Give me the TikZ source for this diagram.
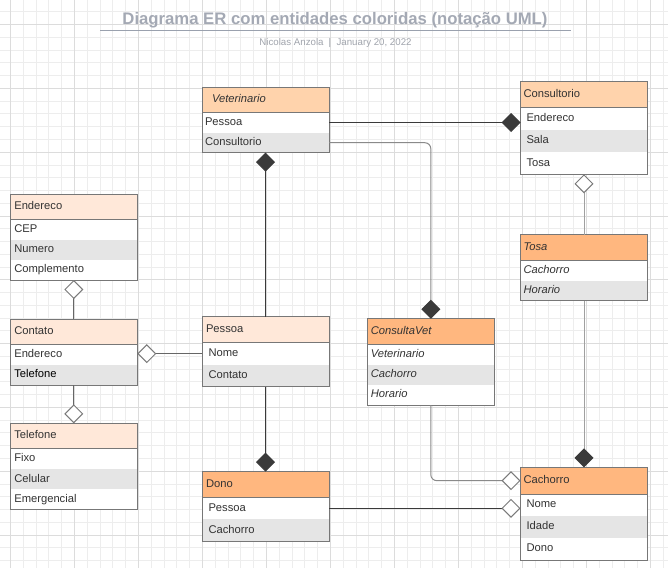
\documentclass[tikz,border=0pt]{standalone}
\usepackage{fontspec}
\setmainfont{Liberation Sans}
\usetikzlibrary{arrows.meta}
\definecolor{gmin}{HTML}{EDEDED}
\definecolor{gmaj}{HTML}{DCDCDC}
\definecolor{hA}{HTML}{FFD3AC}
\definecolor{hB}{HTML}{FFE8D9}
\definecolor{hC}{HTML}{FFB77F}
\definecolor{rowg}{HTML}{E5E5E5}
\definecolor{bordc}{HTML}{777777}
\definecolor{txt}{HTML}{333333}
\definecolor{dk}{HTML}{3A3A3A}
\definecolor{md}{HTML}{666666}
\definecolor{lt}{HTML}{8A8A8A}
\definecolor{lt2}{HTML}{A0A0A0}
\definecolor{odc}{HTML}{7A7A7A}
\definecolor{titlec}{HTML}{A4A9B4}
\definecolor{titleline}{HTML}{9AA1AE}
\definecolor{subc}{HTML}{A0A4AC}
\newcommand\cellfont{\fontsize{11.2}{13}\selectfont}
\newcommand\ecell[8]{%
  \pgfmathsetmacro\ecw{127-2*#6}%
  \node[cellbase, fill=#5, minimum height=#4pt, inner xsep=#6pt, text width=\ecw pt, font=\cellfont#7] (#1) at (#2,#3) {#8};}
\begin{document}
\begin{tikzpicture}[x=1pt,y=-1pt,
  cellbase/.style={anchor=north west, draw=none, inner ysep=0pt, outer sep=0pt, align=left,
    minimum width=127pt, text height=8pt, text depth=2.3pt, text=txt},
  gridmin/.style={draw=gmin, line width=0.9pt},
  gridmaj/.style={draw=gmaj, line width=1pt},
  bord/.style={draw=bordc, line width=1pt},
  conn/.style={line width=1pt},
  fdEnd/.style={-{Diamond[length=19pt,width=19pt,color=dk,fill=dk]}},
  fdStart/.style={{Diamond[length=19pt,width=19pt,color=dk,fill=dk]}-},
  odEnd/.style={-{Diamond[length=19pt,width=19pt,color=odc,fill=white]}},
  odStart/.style={{Diamond[length=19pt,width=19pt,color=odc,fill=white]}-}]
\useasboundingbox (0,0) rectangle (668,568);
\fill[white] (0,0) rectangle (668,568);
% grid
\foreach \k in {-1,...,51} {\pgfmathsetmacro\xx{10.5+12.8*\k}\draw[gridmin] (\xx,0) -- (\xx,568);}
\foreach \k in {-1,...,42} {\pgfmathsetmacro\yy{24.6+12.76*\k}\draw[gridmin] (0,\yy) -- (668,\yy);}
\foreach \k in {0,...,10} {\pgfmathsetmacro\xx{10.5+64*\k}\draw[gridmaj] (\xx,0) -- (\xx,568);}
\foreach \k in {0,...,8} {\pgfmathsetmacro\yy{24.6+63.8*\k}\draw[gridmaj] (0,\yy) -- (668,\yy);}
% title
\node[anchor=base, inner sep=0pt, text=titlec, font=\bfseries\fontsize{16.7}{19}\selectfont] (title) at (335,24.3) {Diagrama ER com entidades coloridas (notação UML)};
\draw[titleline, line width=1.2pt] (100,30.7) -- (571,30.7);
\node[anchor=base, inner sep=0pt, text=subc, font=\fontsize{9.7}{11}\selectfont] (sub) at (335.5,45) {Nicolas Anzola\hspace{5pt}|\hspace{5.5pt}January 20, 2022};
% Veterinario
\ecell{vet}{202}{87}{25.3}{hA}{10}{\itshape}{Veterinario}
\ecell{vetP}{202}{112.3}{20.4}{white}{3}{}{Pessoa}
\ecell{vetC}{202}{132.7}{20}{rowg}{3}{}{Consultorio}
\draw[bord] (vet.north west) rectangle (vetC.south east);
\draw[bord] (vet.south west) -- (vet.south east);
% Consultorio
\ecell{cons}{520.5}{81.7}{25.6}{hA}{3}{}{Consultorio}
\ecell{consE}{520.5}{107.3}{22.7}{white}{6}{}{Endereco}
\ecell{consS}{520.5}{130}{22}{rowg}{6}{}{Sala}
\ecell{consT}{520.5}{152}{22.3}{white}{6}{}{Tosa}
\draw[bord] (cons.north west) rectangle (consT.south east);
\draw[bord] (cons.south west) -- (cons.south east);
% Endereco
\ecell{endr}{10.3}{194}{25}{hB}{4}{}{Endereco}
\ecell{endCEP}{10.3}{219}{20.5}{white}{4}{}{CEP}
\ecell{endN}{10.3}{239.5}{20.5}{rowg}{4}{}{Numero}
\ecell{endC}{10.3}{260}{20}{white}{4}{}{Complemento}
\draw[bord] (endr.north west) rectangle (endC.south east);
\draw[bord] (endr.south west) -- (endr.south east);
% Contato
\ecell{cont}{10.3}{319}{25.3}{hB}{4}{}{Contato}
\ecell{contE}{10.3}{344.3}{20.2}{white}{4}{}{Endereco}
\ecell{contT}{10.3}{364.5}{20.5}{rowg}{4}{}{\textcolor{black}{Telefone}}
\draw[bord] (cont.north west) rectangle (contT.south east);
\draw[bord] (cont.south west) -- (cont.south east);
% Telefone
\ecell{tel}{10.3}{423.3}{25.4}{hB}{4}{}{Telefone}
\ecell{telF}{10.3}{448.7}{20.3}{white}{4}{}{Fixo}
\ecell{telC}{10.3}{469}{20.3}{rowg}{4}{}{Celular}
\ecell{telE}{10.3}{489.3}{20.2}{white}{4}{}{Emergencial}
\draw[bord] (tel.north west) rectangle (telE.south east);
\draw[bord] (tel.south west) -- (tel.south east);
% Pessoa
\ecell{pes}{202}{316.7}{25.6}{hB}{4}{}{Pessoa}
\ecell{pesN}{202}{342.3}{22.7}{white}{6.5}{}{Nome}
\ecell{pesC}{202}{365}{21.7}{rowg}{6.5}{}{Contato}
\draw[bord] (pes.north west) rectangle (pesC.south east);
\draw[bord] (pes.south west) -- (pes.south east);
% ConsultaVet
\ecell{cvet}{367.3}{318.7}{25.6}{hC}{3.5}{\itshape}{ConsultaVet}
\ecell{cvetV}{367.3}{344.3}{20.7}{white}{3.5}{\itshape}{Veterinario}
\ecell{cvetC}{367.3}{365}{20}{rowg}{3.5}{\itshape}{Cachorro}
\ecell{cvetH}{367.3}{385}{20}{white}{3.5}{\itshape}{Horario}
\draw[bord] (cvet.north west) rectangle (cvetH.south east);
\draw[bord] (cvet.south west) -- (cvet.south east);
% Tosa
\ecell{tosa}{520.5}{234.5}{26.2}{hC}{3}{\itshape}{Tosa}
\ecell{tosaC}{520.5}{260.7}{20.3}{white}{3}{\itshape}{Cachorro}
\ecell{tosaH}{520.5}{281}{19.7}{rowg}{3}{\itshape}{Horario}
\draw[bord] (tosa.north west) rectangle (tosaH.south east);
\draw[bord] (tosa.south west) -- (tosa.south east);
% Dono
\ecell{dono}{202}{471.7}{25.6}{hC}{4}{}{Dono}
\ecell{donoP}{202}{497.3}{22}{white}{6.5}{}{Pessoa}
\ecell{donoC}{202}{519.3}{22}{rowg}{6.5}{}{Cachorro}
\draw[bord] (dono.north west) rectangle (donoC.south east);
\draw[bord] (dono.south west) -- (dono.south east);
% Cachorro
\ecell{cach}{520.5}{467.3}{26.7}{hC}{3}{}{Cachorro}
\ecell{cachN}{520.5}{494}{22}{white}{6}{}{Nome}
\ecell{cachI}{520.5}{516}{21.7}{rowg}{6}{}{Idade}
\ecell{cachD}{520.5}{537.7}{22.3}{white}{6}{}{Dono}
\draw[bord] (cach.north west) rectangle (cachD.south east);
\draw[bord] (cach.south west) -- (cach.south east);
% connectors
\draw[conn, dk, fdEnd] (vetP.east) -- (vetP.east -| cons.west);
\draw[conn, lt, fdEnd, rounded corners=6pt] (vetC.east) -| (cvet.north);
\draw[conn, dk, fdStart] (vetC.south) -- (pes.north);
\draw[conn, lt2, odStart] (consT.south) -- (tosa.north);
\draw[conn, lt2, fdEnd] (tosaH.south) -- (cach.north);
\draw[conn, lt, odEnd, rounded corners=6pt] (cvetH.south) |- (cach.west);
\draw[conn, dk, odEnd] (donoP.east) -- (donoP.east -| cach.west);
\draw[conn, dk, fdEnd] (pesC.south) -- (dono.north);
\draw[conn, md, odStart] (endC.south) -- (cont.north);
\draw[conn, md, odEnd] (pesN.west) -- (pesN.west -| contE.east);
\draw[conn, md, odEnd] (contT.south) -- (tel.north);
\end{tikzpicture}
\end{document}
